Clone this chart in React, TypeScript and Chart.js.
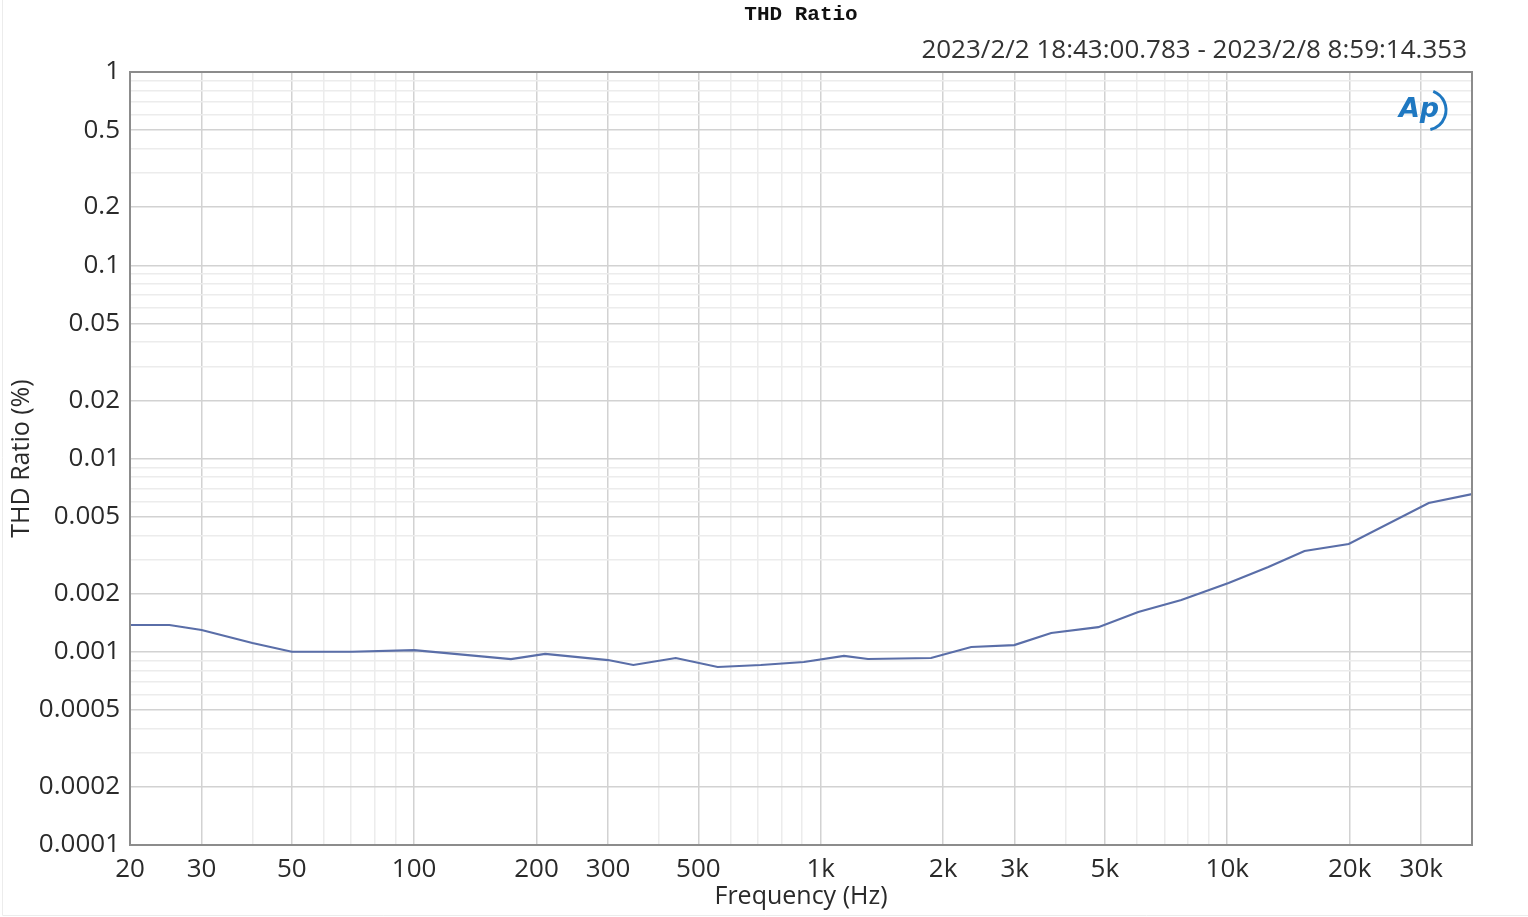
import React, { useEffect, useRef } from "react";
import { Chart, registerables } from "chart.js";

Chart.register(...registerables);

// ---- data ----
const frequencyHz = [20, 25, 30, 40, 50, 70, 100, 173, 210, 300, 346, 440, 558, 712, 909, 1141, 1307, 1868, 2345, 2992, 3690, 4818, 6041, 7710, 10075, 12620, 15490, 19900, 31300, 40000];
const thdRatioPct = [0.001375, 0.001375, 0.001296, 0.00111, 0.001, 0.001, 0.00102, 0.000917, 0.000974, 0.000906, 0.000854, 0.000928, 0.000834, 0.000854, 0.000885, 0.000951, 0.000917, 0.000928, 0.001058, 0.001083, 0.00125, 0.00134, 0.001606, 0.001853, 0.00227, 0.002746, 0.003321, 0.003611, 0.005886, 0.00655];

const xLabeledTicks = [20, 30, 50, 100, 200, 300, 500, 1000, 2000, 3000, 5000, 10000, 20000, 30000];
const xTickLabels = ["20", "30", "50", "100", "200", "300", "500", "1k", "2k", "3k", "5k", "10k", "20k", "30k"];
const yLabeledTicks = [0.0001, 0.0002, 0.0005, 0.001, 0.002, 0.005, 0.01, 0.02, 0.05, 0.1, 0.2, 0.5, 1];
const yTickLabels = ["0.0001", "0.0002", "0.0005", "0.001", "0.002", "0.005", "0.01", "0.02", "0.05", "0.1", "0.2", "0.5", "1"];

const chartTitle = "THD Ratio";
const dateRange = "2023/2/2 18:43:00.783 - 2023/2/8 8:59:14.353";
const xTitle = "Frequency (Hz)";
const yTitle = "THD Ratio (%)";

const X_MIN = 20;
const X_MAX = 40000;
const Y_MIN = 0.0001;
const Y_MAX = 1;

const MAJOR_GRID = "#d2d2d2";
const MINOR_GRID = "#ececec";
const TEXT = "#2a2a2a";
const FONT = '"Open Sans", "Noto Sans", sans-serif';

function logGridValues(min: number, max: number) {
  const out: number[] = [];
  for (let e = Math.floor(Math.log10(min)); e <= Math.ceil(Math.log10(max)); e++) {
    for (let m = 1; m <= 9; m++) {
      const v = parseFloat((m * Math.pow(10, e)).toPrecision(6));
      if (v >= min * 0.9999 && v <= max * 1.0001) out.push(v);
    }
  }
  return out;
}

function findIndex(arr: number[], v: number) {
  return arr.findIndex((a) => Math.abs(a - v) / a < 1e-6);
}

const decorPlugin = {
  id: "decor",
  afterDraw(chart: any) {
    const { ctx, chartArea } = chart;
    ctx.save();
    // plot border
    ctx.strokeStyle = "#8c8c8c";
    ctx.lineWidth = 2;
    ctx.strokeRect(chartArea.left, chartArea.top, chartArea.right - chartArea.left, chartArea.bottom - chartArea.top);
    // title
    ctx.fillStyle = "#111";
    ctx.font = 'bold 21px "Liberation Mono", "DejaVu Sans Mono", monospace';
    ctx.textAlign = "center";
    ctx.textBaseline = "middle";
    ctx.fillText(chartTitle, (chartArea.left + chartArea.right) / 2, 15);
    // date range
    ctx.fillStyle = "#333";
    ctx.font = "26px " + FONT;
    ctx.textAlign = "right";
    ctx.fillText(dateRange, chartArea.right - 5, 51);
    // AP logo
    ctx.fillStyle = "#1f78c1";
    ctx.font = 'italic bold 27px "DejaVu Sans", sans-serif';
    ctx.textAlign = "center";
    ctx.fillText("Ap", 1419, 110);
    ctx.strokeStyle = "#1f78c1";
    ctx.lineWidth = 3;
    ctx.beginPath();
    ctx.arc(1426, 110, 20, -1.2, 1.35);
    ctx.stroke();
    // faint outer frame
    ctx.strokeStyle = "#ececec";
    ctx.lineWidth = 1;
    ctx.beginPath();
    ctx.moveTo(2.5, 0);
    ctx.lineTo(2.5, 915.5);
    ctx.lineTo(1528, 915.5);
    ctx.stroke();
    ctx.restore();
  },
};

export default function App() {
  const canvasRef = useRef<HTMLCanvasElement | null>(null);

  useEffect(() => {
    const canvas = canvasRef.current;
    if (!canvas) return;
    const xGrid = logGridValues(X_MIN, X_MAX);
    const yGrid = logGridValues(Y_MIN, Y_MAX);

    const chart = new Chart(canvas, {
      type: "line",
      data: {
        datasets: [
          {
            data: frequencyHz.map((f, i) => ({ x: f, y: thdRatioPct[i] })),
            borderColor: "#5a6ea8",
            borderWidth: 2.2,
            pointRadius: 0,
            tension: 0,
            fill: false,
          },
        ],
      },
      options: {
        responsive: false,
        animation: false,
        devicePixelRatio: 1,
        layout: { padding: { top: 72, right: 56, left: 0, bottom: 0 } },
        plugins: { legend: { display: false }, tooltip: { enabled: false }, title: { display: false } },
        scales: {
          x: {
            type: "logarithmic",
            min: X_MIN,
            max: X_MAX,
            afterBuildTicks: (scale: any) => {
              scale.ticks = xGrid.map((v) => ({ value: v, isMajor: findIndex(xLabeledTicks, v) >= 0 }));
            },
            afterFit: (scale: any) => {
              scale.height = 72;
            },
            grid: {
              drawTicks: false,
              color: (c: any) => (c.tick && c.tick.isMajor ? MAJOR_GRID : MINOR_GRID),
              lineWidth: 1.5,
            },
            border: { display: false },
            ticks: {
              autoSkip: false,
              maxRotation: 0,
              padding: 9,
              color: TEXT,
              font: { size: 26, family: FONT },
              callback: (v: any) => {
                const i = findIndex(xLabeledTicks, Number(v));
                return i >= 0 ? xTickLabels[i] : "";
              },
            },
            title: {
              display: true,
              text: xTitle,
              color: TEXT,
              font: { size: 25, family: FONT },
              padding: { top: 0, bottom: 5 },
            },
          },
          y: {
            type: "logarithmic",
            min: Y_MIN,
            max: Y_MAX,
            afterBuildTicks: (scale: any) => {
              scale.ticks = yGrid.map((v) => ({ value: v, isMajor: findIndex(yLabeledTicks, v) >= 0 }));
            },
            afterFit: (scale: any) => {
              scale.width = 130;
            },
            grid: {
              drawTicks: false,
              color: (c: any) => (c.tick && c.tick.isMajor ? MAJOR_GRID : MINOR_GRID),
              lineWidth: 1.5,
            },
            border: { display: false },
            ticks: {
              autoSkip: false,
              padding: 10,
              color: TEXT,
              font: { size: 26, family: FONT },
              callback: (v: any) => {
                const i = findIndex(yLabeledTicks, Number(v));
                return i >= 0 ? yTickLabels[i] : "";
              },
            },
            title: {
              display: true,
              text: yTitle,
              color: TEXT,
              font: { size: 25, family: FONT },
              padding: { top: 7, bottom: 0 },
            },
          },
        },
      },
      plugins: [decorPlugin],
    } as any);

    return () => chart.destroy();
  }, []);

  return (
    <div style={{ position: "fixed", left: 0, top: 0, width: 1528, height: 917, background: "#fff" }}>
      <canvas ref={canvasRef} width={1528} height={917} style={{ display: "block" }} />
    </div>
  );
}
